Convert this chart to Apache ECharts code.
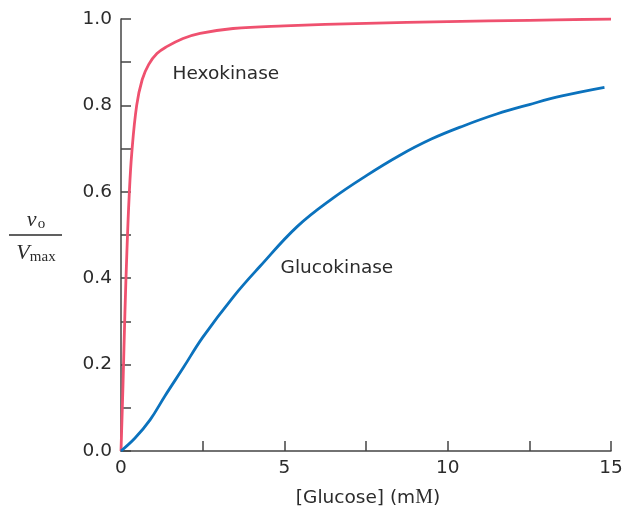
<!DOCTYPE html>
<html>
<head>
<meta charset="utf-8">
<script src="https://cdn.jsdelivr.net/npm/echarts@6/dist/echarts.min.js"></script>
<style>
  html, body { margin: 0; padding: 0; background: #fff; }
  #chart { width: 626px; height: 511px; }
</style>
</head>
<body>
<div id="chart"></div>
<script>
// glucose concentration (mM) and v0/Vmax
var hexoX = [0, 0.06, 0.12, 0.18, 0.25, 0.33, 0.48, 0.65, 0.85, 1.1, 1.4, 1.9, 2.42, 3.43, 5.0, 7.5, 10.0, 12.5, 15.0];
var hexoY = [0, 0.15, 0.32, 0.46, 0.59, 0.69, 0.80, 0.86, 0.895, 0.92, 0.936, 0.955, 0.967, 0.978, 0.984, 0.99, 0.994, 0.997, 1.0];

var glucoX = [0, 0.43, 0.89, 1.35, 1.9, 2.5, 3.44, 4.25, 5.4, 6.5, 7.5, 8.5, 9.5, 10.5, 11.5, 12.5, 13.5, 14.8];
var glucoY = [0, 0.03, 0.072, 0.128, 0.192, 0.263, 0.357, 0.427, 0.52, 0.586, 0.637, 0.683, 0.722, 0.753, 0.78, 0.802, 0.822, 0.842];

var xTickLabels = [0, 5, 10, 15];
var yTickLabels = ["0.0", "0.2", "0.4", "0.6", "0.8", "1.0"];

function pairs(xs, ys) {
  return xs.map(function (x, i) { return [x, ys[i]]; });
}

var chart = echarts.init(document.getElementById("chart"));
var axisColor = "#444";
var textColor = "#2b2b2b";
var font = "DejaVu Sans";
var serif = "Liberation Serif";

var option = {
  animation: false,
  grid: { left: 121, right: 15, top: 19, bottom: 60 },
  xAxis: {
    type: "value",
    min: 0, max: 15, interval: 2.5,
    axisLine: { lineStyle: { color: axisColor, width: 1.5 } },
    axisTick: { inside: true, length: 10, lineStyle: { color: axisColor, width: 1.5 } },
    axisLabel: {
      margin: 8, color: textColor, fontSize: 18.5, fontFamily: font,
      formatter: function (v) {
        return xTickLabels.indexOf(v) >= 0 ? String(v) : "";
      }
    },
    splitLine: { show: false }
  },
  yAxis: {
    type: "value",
    min: 0, max: 1, interval: 0.1,
    axisLine: { show: true, lineStyle: { color: axisColor, width: 1.5 } },
    axisTick: { show: true, inside: true, length: 10, lineStyle: { color: axisColor, width: 1.5 } },
    axisLabel: {
      margin: 9, color: textColor, fontSize: 18.5, fontFamily: font,
      formatter: function (v) {
        var s = v.toFixed(1);
        return yTickLabels.indexOf(s) >= 0 ? s : "";
      }
    },
    splitLine: { show: false }
  },
  series: [
    {
      name: "Hexokinase", type: "line", smooth: 0.4, showSymbol: false,
      lineStyle: { color: "#ef516f", width: 2.8 },
      data: pairs(hexoX, hexoY)
    },
    {
      name: "Glucokinase", type: "line", smooth: 0.4, showSymbol: false,
      lineStyle: { color: "#0b72bd", width: 2.8 },
      data: pairs(glucoX, glucoY)
    }
  ]
};
chart.setOption(option);

var hexoLab = chart.convertToPixel({ gridIndex: 0 }, [3.21, 0.873]);
var glucoLab = chart.convertToPixel({ gridIndex: 0 }, [6.61, 0.424]);

chart.setOption({
  graphic: [
    { type: "text", x: hexoLab[0], y: hexoLab[1],
      style: { text: "Hexokinase", fill: textColor, font: "18.5px " + font, textAlign: "center", textVerticalAlign: "middle" } },
    { type: "text", x: glucoLab[0], y: glucoLab[1],
      style: { text: "Glucokinase", fill: textColor, font: "18.5px " + font, textAlign: "center", textVerticalAlign: "middle" } },
    // y axis title: v0 / Vmax
    { type: "text", x: 36, y: 220,
      style: { text: "{i|v}{s|o}", textAlign: "center", textVerticalAlign: "middle",
        rich: {
          i: { fontFamily: serif, fontStyle: "italic", fontSize: 22, fill: textColor },
          s: { fontFamily: serif, fontSize: 15, fill: textColor, verticalAlign: "bottom", padding: [9, 0, 0, 1] }
        } } },
    { type: "line", shape: { x1: 9, y1: 235, x2: 62, y2: 235 }, style: { stroke: textColor, lineWidth: 1.3 } },
    { type: "text", x: 36, y: 253,
      style: { text: "{i|V}{s|max}", textAlign: "center", textVerticalAlign: "middle",
        rich: {
          i: { fontFamily: serif, fontStyle: "italic", fontSize: 22, fill: textColor },
          s: { fontFamily: serif, fontSize: 15, fill: textColor, verticalAlign: "bottom", padding: [9, 0, 0, 0] }
        } } },
    // x axis title
    { type: "text", x: 368, y: 498,
      style: { text: "{a|[Glucose] (m}{m|M}{a|)}", textAlign: "center", textVerticalAlign: "middle",
        rich: {
          a: { fontFamily: font, fontSize: 18.5, fill: textColor },
          m: { fontFamily: serif, fontSize: 20, fill: textColor }
        } } }
  ]
});
</script>
</body>
</html>
